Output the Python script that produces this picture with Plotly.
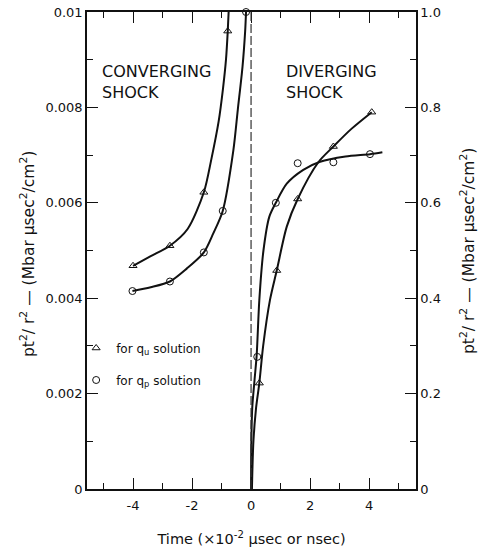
import plotly.graph_objects as go

# ---------------- data ----------------
# Converging shock (left axis, 0 .. 0.01)
conv_tri_x = [-4.0, -2.75, -1.6, -0.79]
conv_tri_y = [0.00468, 0.0051, 0.00622, 0.0096]
conv_cir_x = [-4.02, -2.75, -1.6, -0.96, -0.17]
conv_cir_y = [0.00415, 0.00435, 0.00496, 0.00583, 0.0100]

conv_tri_curve_x = [-4.0, -3.4, -2.75, -2.15, -1.6, -1.35, -1.1, -0.95, -0.85, -0.79, -0.76]
conv_tri_curve_y = [0.00468, 0.00488, 0.0051, 0.00545, 0.00622, 0.0069, 0.0077, 0.0084, 0.0090, 0.0096, 0.0100]
conv_cir_curve_x = [-4.02, -3.4, -2.75, -2.18, -1.6, -1.28, -0.96, -0.6, -0.45, -0.29, -0.2, -0.17]
conv_cir_curve_y = [0.00415, 0.00423, 0.00435, 0.00462, 0.00496, 0.00536, 0.00583, 0.0071, 0.00795, 0.00885, 0.0096, 0.0100]

# Diverging shock (right axis, 0 .. 1.0)
div_tri_x = [0.28, 0.87, 1.58, 2.79, 4.09]
div_tri_y = [0.222, 0.458, 0.608, 0.718, 0.79]
div_cir_x = [0.21, 0.84, 1.58, 2.79, 4.03]
div_cir_y = [0.277, 0.60, 0.683, 0.685, 0.702]

div_tri_curve_x = [0.03, 0.08, 0.17, 0.28, 0.41, 0.64, 0.87, 1.21, 1.58, 2.28, 2.79, 3.4, 4.09]
div_tri_curve_y = [0.0, 0.10, 0.17, 0.222, 0.30, 0.396, 0.458, 0.55, 0.608, 0.685, 0.718, 0.755, 0.79]
div_cir_curve_x = [0.0, 0.01, 0.04, 0.12, 0.19, 0.28, 0.42, 0.62, 0.84, 1.21, 1.77, 2.34, 3.2, 4.03, 4.45]
div_cir_curve_y = [0.0, 0.10, 0.17, 0.23, 0.28, 0.396, 0.50, 0.571, 0.60, 0.64, 0.669, 0.686, 0.697, 0.702, 0.706]

# axis ticks
x_range = [-5.56, 5.59]
x_tickvals = [-4, -2, 0, 2, 4]
x_ticktext = ["-4", "-2", "0", "2", "4"]
x_minor = [-5, -3, -1, 1, 3, 5]
y_tickvals = [0, 0.002, 0.004, 0.006, 0.008, 0.01]
y_ticktext = ["0", "0.002", "0.004", "0.006", "0.008", "0.01"]
y_minor = [0.001, 0.003, 0.005, 0.007, 0.009]
y2_tickvals = [0, 0.2, 0.4, 0.6, 0.8, 1.0]
y2_ticktext = ["0", "0.2", "0.4", "0.6", "0.8", "1.0"]
y2_minor = [0.1, 0.3, 0.5, 0.7, 0.9]

FONT = "DejaVu Sans"
INK = "#111111"
Y_TITLE = "pt<sup>2</sup>/ r<sup>2</sup> — (Mbar μsec<sup>2</sup>/cm<sup>2</sup>)"
X_TITLE = "Time (×10<sup>-2</sup> μsec or nsec)"

fig = go.Figure()

line_style = dict(color=INK, width=2, shape="spline", smoothing=0.8)
tri_marker = dict(symbol="triangle-up-open", size=7, color=INK, line=dict(width=1, color=INK))
cir_marker = dict(symbol="circle-open", size=7, color=INK, line=dict(width=1, color=INK))

fig.add_trace(go.Scatter(x=conv_tri_curve_x, y=conv_tri_curve_y, mode="lines",
                         line=line_style, showlegend=False, hoverinfo="skip"))
fig.add_trace(go.Scatter(x=conv_cir_curve_x, y=conv_cir_curve_y, mode="lines",
                         line=line_style, showlegend=False, hoverinfo="skip"))
fig.add_trace(go.Scatter(x=div_tri_curve_x, y=div_tri_curve_y, mode="lines", yaxis="y2",
                         line=line_style, showlegend=False, hoverinfo="skip"))
fig.add_trace(go.Scatter(x=div_cir_curve_x, y=div_cir_curve_y, mode="lines", yaxis="y2",
                         line=line_style, showlegend=False, hoverinfo="skip"))

fig.add_trace(go.Scatter(x=conv_tri_x, y=conv_tri_y, mode="markers", marker=tri_marker,
                         name="for q<sub>u</sub> solution", legendgroup="u", cliponaxis=False))
fig.add_trace(go.Scatter(x=conv_cir_x, y=conv_cir_y, mode="markers", marker=cir_marker,
                         name="for q<sub>p</sub> solution", legendgroup="p", cliponaxis=False))
fig.add_trace(go.Scatter(x=div_tri_x, y=div_tri_y, mode="markers", marker=tri_marker, yaxis="y2",
                         showlegend=False, legendgroup="u", cliponaxis=False))
fig.add_trace(go.Scatter(x=div_cir_x, y=div_cir_y, mode="markers", marker=cir_marker, yaxis="y2",
                         showlegend=False, legendgroup="p", cliponaxis=False))

# dashed line at t = 0
fig.add_shape(type="line", xref="x", yref="paper", x0=0, x1=0, y0=0, y1=1,
              line=dict(color="#333333", width=1.2, dash="9px,3px"))

axis_common = dict(showline=True, linecolor=INK, linewidth=1.5, showgrid=False,
                   zeroline=False, ticks="inside", tickcolor=INK, tickwidth=1,
                   automargin=False, ticklabeloverflow="allow",
                   tickfont=dict(family=FONT, size=13, color=INK))

fig.update_layout(
    width=479, height=552,
    margin=dict(l=87, r=63, t=12, b=63),
    paper_bgcolor="white", plot_bgcolor="white",
    font=dict(family=FONT, size=12, color=INK),
    xaxis=dict(**axis_common, range=x_range, tickvals=x_tickvals, ticktext=x_ticktext,
               ticklen=11, ticklabelstandoff=4, mirror="ticks",
               minor=dict(tickvals=x_minor, ticks="inside", ticklen=6, tickcolor=INK),
               title=dict(text=X_TITLE, standoff=22,
                          font=dict(family=FONT, size=14.5, color=INK))),
    yaxis=dict(**axis_common, range=[0, 0.01], tickvals=y_tickvals, ticktext=y_ticktext,
               ticklen=11,
               minor=dict(tickvals=y_minor, ticks="inside", ticklen=6, tickcolor=INK)),
    yaxis2=dict(**axis_common, range=[0, 1.0], tickvals=y2_tickvals, ticktext=y2_ticktext,
                ticklen=11, overlaying="y", side="right",
                minor=dict(tickvals=y2_minor, ticks="inside", ticklen=6, tickcolor=INK)),
    legend=dict(x=-0.033, y=0.326, xanchor="left", yanchor="top", bgcolor="rgba(0,0,0,0)",
                font=dict(family=FONT, size=12, color=INK), tracegroupgap=13,
                traceorder="grouped", itemwidth=30),
    annotations=[
        dict(text="CONVERGING<br>SHOCK", xref="paper", yref="paper",
             x=(100 - 87) / 329, y=(489 - 60) / 477, xanchor="left", yanchor="top",
             align="left", showarrow=False, font=dict(family=FONT, size=16, color=INK)),
        dict(text="DIVERGING<br>SHOCK", xref="paper", yref="paper",
             x=(284 - 87) / 329, y=(489 - 60) / 477, xanchor="left", yanchor="top",
             align="left", showarrow=False, font=dict(family=FONT, size=16, color=INK)),
        # left and right axis titles
        dict(text=Y_TITLE, xref="paper", yref="paper", x=(28 - 87) / 329, y=(489 - 254) / 477,
             xanchor="center", yanchor="middle", textangle=-90, showarrow=False,
             font=dict(family=FONT, size=15.5, color=INK)),
        dict(text=Y_TITLE, xref="paper", yref="paper", x=(468 - 87) / 329, y=(489 - 251) / 477,
             xanchor="center", yanchor="middle", textangle=-90, showarrow=False,
             font=dict(family=FONT, size=15.5, color=INK)),
    ],
)

# remove the browser's default body margin so the figure sits at the window's corner
fig.write_html("out.html", config={"displayModeBar": False},
               post_script="document.body.style.margin='0';")
